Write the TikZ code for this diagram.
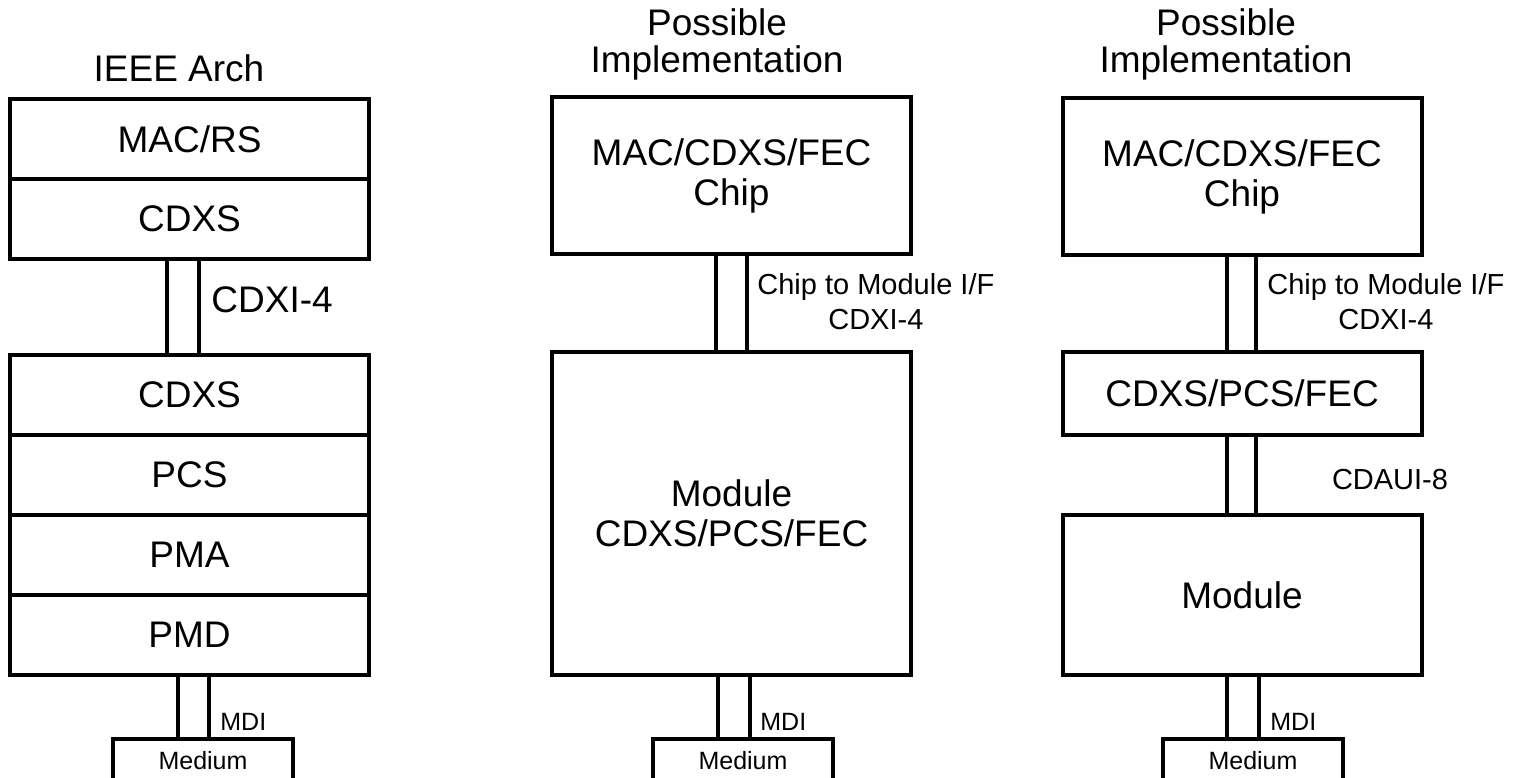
\documentclass[tikz,border=0pt]{standalone}
\usepackage{fontspec}
\setmainfont{Liberation Sans}
\usepackage{tikz}
\usetikzlibrary{positioning, calc}
\newcommand{\lyrfont}{\fontsize{18.5}{20}\selectfont}
\newcommand{\ttlfont}{\fontsize{18.5}{18.5}\selectfont}
\newcommand{\ifcfont}{\fontsize{14.5}{17.5}\selectfont}
\newcommand{\mdifont}{\fontsize{12.5}{14}\selectfont}

\begin{document}
\begin{tikzpicture}[
    x=0.5pt, y=-0.5pt,
    layer/.style={draw, line width=2pt, minimum width=179.5pt, minimum height=40pt,
                  inner sep=0pt, outer sep=0pt, align=center, font=\lyrfont},
    pipe/.style={draw, line width=2pt},
    medium/.style={draw, line width=2pt, minimum width=90pt, minimum height=22pt,
                   inner sep=0pt, outer sep=0pt, font=\mdifont},
    ttl/.style={align=center, font=\ttlfont},
    ifl/.style={align=center, font=\ifcfont, inner sep=1pt},
    mdil/.style={anchor=west, font=\mdifont, inner sep=1pt}
  ]
  \useasboundingbox (0,0) rectangle (1515,777);

  % ---------------- IEEE arch ----------------
  \node[ttl] (ttla) at (179,68) {IEEE Arch};
  \node[layer] (macrs) at (189.5,139) {MAC/RS};
  \node[layer, below=0pt of macrs] (cdxsa) {CDXS};
  \node[layer, below=48pt of cdxsa] (cdxsb) {CDXS};
  \node[layer, below=0pt of cdxsb] (pcs) {PCS};
  \node[layer, below=0pt of pcs] (pma) {PMA};
  \node[layer, below=0pt of pma] (pmd) {PMD};
  \node[medium] (meda) at (203,761) {Medium};
  \draw[pipe] ($(cdxsa.south)+(-22.5,0)$) rectangle ($(cdxsb.north)+(9.5,0)$);
  \draw[pipe] ($(pmd.south)+(-11.5,0)$) rectangle ($(pmd.south |- meda.north)+(19.5,0)$);
  \node[ifl, anchor=west, font=\lyrfont] (cdxia) at (209,300) {CDXI-4};
  \node[mdil] (mdia) at (218,722) {MDI};

  % ---------------- chip + module ----------------
  \node[ttl] (ttlb) at (717,44) {Possible\\Implementation};
  \node[layer, minimum height=78.5pt] (chipb) at (731.5,175.5) {MAC/CDXS/FEC\\Chip};
  \node[layer, minimum height=161.5pt, below=49pt of chipb] (modb) {Module\\CDXS/PCS/FEC};
  \node[medium] (medb) at (743,761) {Medium};
  \draw[pipe] ($(chipb.south)+(-15.5,0)$) rectangle ($(modb.north)+(15.5,0)$);
  \draw[pipe] ($(modb.south)+(-13.5,0)$) rectangle ($(modb.south |- medb.north)+(18.5,0)$);
  \node[ifl, anchor=west] (cdxib) at (755,302) {Chip to Module I/F\\CDXI-4};
  \node[mdil] (mdib) at (758,722) {MDI};

  % ---------------- chip + pcs + module ----------------
  \node[ttl] (ttlc) at (1226,44) {Possible\\Implementation};
  \node[layer, minimum height=78.5pt] (chipc) at (1242,176.5) {MAC/CDXS/FEC\\Chip};
  \node[layer, minimum height=41.5pt, below=48.5pt of chipc] (pcsc) {CDXS/PCS/FEC};
  \node[layer, minimum height=80pt, below=40pt of pcsc] (modc) {Module};
  \node[medium] (medc) at (1253,761) {Medium};
  \draw[pipe] ($(chipc.south)+(-15,0)$) rectangle ($(pcsc.north)+(14,0)$);
  \draw[pipe] ($(pcsc.south)+(-15,0)$) rectangle ($(modc.north)+(14,0)$);
  \draw[pipe] ($(modc.south)+(-15,0)$) rectangle ($(modc.south |- medc.north)+(17,0)$);
  \node[ifl, anchor=west] (cdxic) at (1265,302) {Chip to Module I/F\\CDXI-4};
  \node[ifl] (cdauic) at (1390,480) {CDAUI-8};
  \node[mdil] (mdic) at (1268,722) {MDI};
\end{tikzpicture}
\end{document}
